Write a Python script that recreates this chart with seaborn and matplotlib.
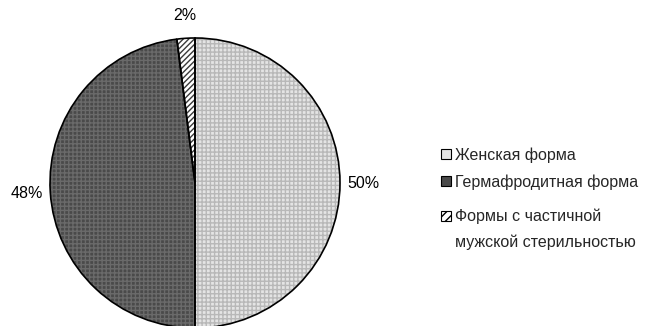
import matplotlib
matplotlib.use("Agg")
import matplotlib.pyplot as plt
from matplotlib.patches import Patch
import seaborn as sns

categories = ["Женская форма", "Гермафродитная форма", "Формы с частичной\nмужской стерильностью"]
values = [50, 48, 2]
pct_labels = ["50%", "48%", "2%"]

sns.set_style("white")
plt.rcParams['font.family'] = ['Liberation Sans', 'DejaVu Sans']

face_colors = ["#e4e4e4", "#4a4a4a", "#ffffff"]
hatch_colors = ["#b8b8b8", "#6a6a6a", "#3a3a3a"]
hatches = ["++++", "++++", "//////"]

W, H = 652, 326
fig = plt.figure(figsize=(W / 100, H / 100), dpi=100)
cx, cy, r = 195, 183, 145
ax = fig.add_axes([(cx - r) / W, (H - cy - r) / H, 2 * r / W, 2 * r / H])

wedges, texts, autotexts = ax.pie(values, startangle=90, counterclock=False,
                                  colors=face_colors, autopct=lambda p: "",
                                  pctdistance=1.16,
                                  wedgeprops=dict(linewidth=0))
for w, hc, h in zip(wedges, hatch_colors, hatches):
    w.set_hatch(h)
    w.set_edgecolor(hc)
    w.set_linewidth(0)
    w.set_clip_on(False)
for t, lab in zip(autotexts, pct_labels):
    t.set_text(lab)
    t.set_fontsize(11.5)
    t.set_color("black")
    t.set_clip_on(False)

outline, _ = ax.pie(values, startangle=90, counterclock=False,
                    wedgeprops=dict(fill=False, edgecolor="black", linewidth=1.2))
for w in outline:
    w.set_clip_on(False)
ax.set_xlim(-1, 1)
ax.set_ylim(-1, 1)
ax.set_aspect("equal")
ax.axis("off")

handles = [Patch(facecolor=face_colors[0], edgecolor="black", linewidth=0.8),
           Patch(facecolor=face_colors[1], edgecolor="black", linewidth=0.8),
           Patch(facecolor="white", edgecolor="black", linewidth=0.8, hatch="////")]
common = dict(loc="upper left", frameon=False, fontsize=11.5, handlelength=0.65,
              handleheight=0.65, handletextpad=0.25, borderaxespad=0, borderpad=0)
fig.legend(handles[:2], categories[:2],
           bbox_to_anchor=(441 / W, 1 - 147 / H), labelspacing=0.72, **common)
lines3 = categories[2].split("\n")
fig.legend([handles[2], Patch(visible=False)], lines3,
           bbox_to_anchor=(441 / W, 1 - 209 / H), labelspacing=0.6, **common)

fig.savefig("out.png", dpi=100)
